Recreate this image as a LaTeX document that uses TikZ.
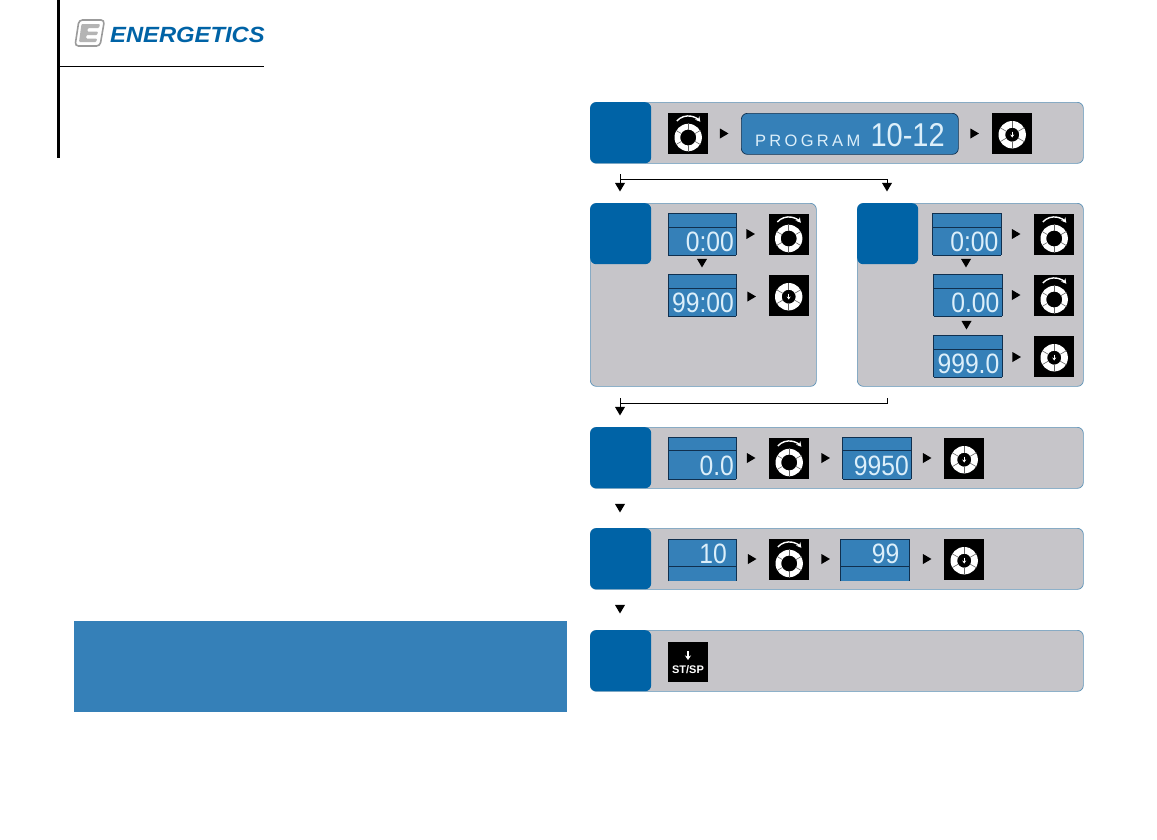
\documentclass[tikz,border=0pt]{standalone}
\usepackage{fontspec}
\usetikzlibrary{shapes.geometric,arrows.meta}
\setmainfont{Liberation Sans}
\newfontfamily\lcdfont[FakeStretch=0.88]{Liberation Sans}
\newfontfamily\progfont[LetterSpace=20]{Liberation Sans}
\newfontfamily\logofont[FakeStretch=1.08]{Liberation Sans}
\definecolor{panelgrey}{HTML}{C6C5C9}
\definecolor{panelline}{HTML}{5D93B8}
\definecolor{tabblue}{HTML}{0063A6}
\definecolor{lcdblue}{HTML}{3580B8}
\definecolor{lcdline}{HTML}{10304F}
\definecolor{lcdtext}{HTML}{DCEFFA}
\definecolor{logogrey}{HTML}{9B9B9B}
\tikzset{
  panelbox/.style={anchor=north west,rectangle,rounded corners=6pt,fill=panelgrey,draw=panelline,line width=.7pt,inner sep=0pt},
  tabbox/.style={anchor=north west,rectangle,rounded corners=6pt,fill=tabblue,inner sep=0pt,minimum width=61pt,minimum height=61pt},
  lcdbox/.style={anchor=north west,rectangle,fill=lcdblue,inner sep=0pt,minimum height=42pt},
  iconbox/.style={anchor=north west,rectangle,fill=black,inner sep=0pt,minimum width=40pt,minimum height=41pt},
  tridown/.style={isosceles triangle,isosceles triangle stretches,shape border rotate=-90,fill=black,inner sep=0pt,minimum width=10pt,minimum height=8.5pt,anchor=apex},
  triright/.style={isosceles triangle,isosceles triangle stretches,fill=black,inner sep=0pt,minimum width=10pt,minimum height=8.5pt,anchor=apex},
  lcdnum/.style={anchor=base east,inner sep=0pt,text=lcdtext,font=\lcdfont\fontsize{28}{28}\selectfont},
  link/.style={draw=black,line width=.8pt},
  rimline/.style={draw=lcdline,line width=.7pt}
}
% name, x, y(top), width, y-offset of divider, digit right, digit baseline, text
\newcommand{\lcdpanel}[8]{%
  \node[lcdbox,minimum width=#4pt] (#1) at (#2,#3) {};
  \draw[rimline] (#1.north west)--(#1.north east);
  \draw[rimline] (#1.south west)--(#1.south east);
  \draw[rimline] ([yshift=-#5pt]#1.north west)--([yshift=-#5pt]#1.north east);
  \draw[rimline] (#1.north west)--(#1.south west) (#1.north east)--(#1.south east);
  \node[lcdnum] (#1t) at (#6,#7) {#8};
}
\newcommand{\knob}[3]{%
  \node[iconbox] (#1) at (#2,#3) {};
  \begin{scope}[shift={(#1.center)},y=1pt]
    \begin{scope}[yshift=-3.8pt]
      \fill[white,even odd rule] (0,0) circle[radius=13.7pt] (0,0) circle[radius=8pt];
      \foreach \a in {30,90,150,210,270,330}
        \draw[black!60,line width=.6pt] (\a:7.7pt)--(\a:14.2pt);
    \end{scope}
    \begin{scope}[yshift=2.5pt]
      \draw[white,line width=1.4pt,-{Stealth[length=5pt,width=5.5pt]}] (138:15.3pt) arc[start angle=138,end angle=38,radius=15.3pt];
    \end{scope}
  \end{scope}
}
\newcommand{\press}[3]{%
  \node[iconbox] (#1) at (#2,#3) {};
  \begin{scope}[shift={(#1.center)},y=1pt,yshift=-1pt]
    \fill[white,even odd rule] (0,0) circle[radius=13.7pt] (0,0) circle[radius=7pt];
    \foreach \a in {30,90,150,210,270,330}
      \draw[black!60,line width=.6pt] (\a:6.7pt)--(\a:14.2pt);
    \draw[white,line width=.9pt,-{Stealth[length=3pt,width=4pt]}] (0,3pt)--(0,-2.8pt);
  \end{scope}
}
\begin{document}
\begin{tikzpicture}[x=1pt,y=-1pt]
\useasboundingbox (0,0) rectangle (1157,839);
\fill[white] (0,0) rectangle (1157,839);

% header
\fill[black] (57,0) rectangle (60,158);
\coordinate (hl) at (60,66.5);
\coordinate (hr) at (264,66.5);
\draw[black,line width=.9pt] (hl)--(hr);
\draw[logogrey,line width=1.6pt,fill=white,rounded corners=3.5pt] (79,20)--(104.5,20)--(100,46)--(75,46)--cycle;
\fill[logogrey!75,rounded corners=1pt] (81.5,24)--(100,24)--(99,28)--(88,28)--(87.2,31.5)--(98,31.5)--(97.2,35)--(86.5,35)--(86,38.5)--(97,38.5)--(96.3,42)--(79,42)--cycle;
\node[anchor=base west,inner sep=0pt,text=tabblue,font=\logofont\fontsize{22}{22}\selectfont\bfseries\itshape] (logo) at (110,42) {ENERGETICS};

% note block
\node[anchor=north west,rectangle,fill=lcdblue,inner sep=0pt,minimum width=493pt,minimum height=91pt] (note) at (74,621) {};

% row 1
\node[panelbox,minimum width=493pt,minimum height=61pt] (p1) at (590,102) {};
\node[tabbox] (b1) at (590,102) {};
\knob{k1}{668}{113}
\node[triright] (a1) at (729,133.5) {};
\node[anchor=north west,rectangle,rounded corners=6pt,fill=lcdblue,draw=lcdline,line width=.7pt,inner sep=0pt,minimum width=217pt,minimum height=41pt] (prog) at (741,113) {};
\node[anchor=base west,inner sep=0pt,text=lcdtext,font=\progfont\fontsize{16.5}{16.5}\selectfont] (progt) at (755,146) {PROGRAM};
\node[lcdnum,font=\lcdfont\fontsize{33}{33}\selectfont] (progn) at (945,146) {10-12};
\node[triright] (a2) at (979.5,133.5) {};
\press{k2}{992}{113}

% split connector
\coordinate (c1) at (620,174);
\coordinate (j1) at (620,179);
\coordinate (j2) at (887,179);
\node[tridown] (t1) at (620,192) {};
\node[tridown] (t2) at (887,192) {};
\draw[link] (c1)--(t1.lower side);
\draw[link] (j1)--(j2)--(t2.lower side);

% row 2 left
\node[panelbox,minimum width=226pt,minimum height=183pt] (p2) at (590,203) {};
\node[tabbox] (b2) at (590,203) {};
\lcdpanel{l21}{668}{213}{68}{14}{734}{251}{0:00}
\node[triright] (a21) at (755.5,234) {};
\knob{k21}{768.5}{214}
\node[tridown] (d21) at (702,268) {};
\lcdpanel{l22}{668}{274}{68}{14}{734}{312}{99:00}
\node[triright] (a22) at (756.5,296.5) {};
\press{k22}{768.5}{275}

% row 2 right
\node[panelbox,minimum width=226pt,minimum height=183pt] (p3) at (857,203) {};
\node[tabbox] (b3) at (857,203) {};
\lcdpanel{l31}{932.5}{213}{68}{14}{998.5}{251}{0:00}
\node[triright] (a31) at (1021,234) {};
\knob{k31}{1034}{214}
\node[tridown] (d31) at (966,268) {};
\lcdpanel{l32}{933.5}{274}{68}{14}{999.5}{312}{0.00}
\node[triright] (a32) at (1021,295) {};
\knob{k32}{1034}{275}
\node[tridown] (d32) at (966.5,330) {};
\lcdpanel{l33}{933.5}{335}{68}{14}{999.5}{373}{999.0}
\node[triright] (a33) at (1021.5,357) {};
\press{k33}{1034}{336}

% merge connector
\coordinate (m1) at (620,398);
\coordinate (m2) at (620,403);
\coordinate (m3) at (887,403);
\coordinate (m4) at (887,398);
\node[tridown] (t3) at (620,416) {};
\draw[link] (m1)--(t3.lower side);
\draw[link] (m2)--(m3)--(m4);

% row 3
\node[panelbox,minimum width=493pt,minimum height=61pt] (p4) at (590,427) {};
\node[tabbox] (b4) at (590,427) {};
\lcdpanel{l41}{668}{437}{68}{13}{734}{475}{0.0}
\node[triright] (a41) at (756,458) {};
\knob{k41}{769}{438}
\node[triright] (a42) at (830.5,458) {};
\lcdpanel{l42}{842.5}{437}{68}{13}{909}{475}{9950}
\node[triright] (a43) at (932,458) {};
\press{k42}{944}{438}

\node[tridown] (t4) at (620,513) {};

% row 4
\node[panelbox,minimum width=493pt,minimum height=61pt] (p5) at (590,528) {};
\node[tabbox] (b5) at (590,528) {};
\node[lcdbox,minimum width=68pt] (l51) at (668,539) {};
\draw[rimline] (l51.south west)--(l51.north west)--(l51.north east)--(l51.south east);
\draw[rimline] ([yshift=-27pt]l51.north west)--([yshift=-27pt]l51.north east);
\node[lcdnum] (l51t) at (727,563) {10};
\node[triright] (a51) at (757,559) {};
\knob{k51}{769}{539}
\node[triright] (a52) at (830.5,559) {};
\node[lcdbox,minimum width=68pt] (l52) at (840.5,539) {};
\draw[rimline] (l52.south west)--(l52.north west)--(l52.north east)--(l52.south east);
\draw[rimline] ([yshift=-27pt]l52.north west)--([yshift=-27pt]l52.north east);
\node[lcdnum] (l52t) at (899.5,563) {99};
\node[triright] (a53) at (932,559) {};
\press{k52}{944}{539}

\node[tridown] (t5) at (620,614) {};

% row 5
\node[panelbox,minimum width=493pt,minimum height=61pt] (p6) at (590,630) {};
\node[tabbox] (b6) at (590,630) {};
\node[iconbox,minimum height=40pt] (st) at (668,642) {};
\node[anchor=base,inner sep=0pt,text=white,font=\fontsize{11}{11}\selectfont\bfseries] (stt) at (688,673) {ST/SP};
\coordinate (sa) at (688,651);
\coordinate (sb) at (688,660);
\draw[white,line width=1.3pt,-{Stealth[length=4.5pt,width=6pt]}] (sa)--(sb);
\end{tikzpicture}
\end{document}
